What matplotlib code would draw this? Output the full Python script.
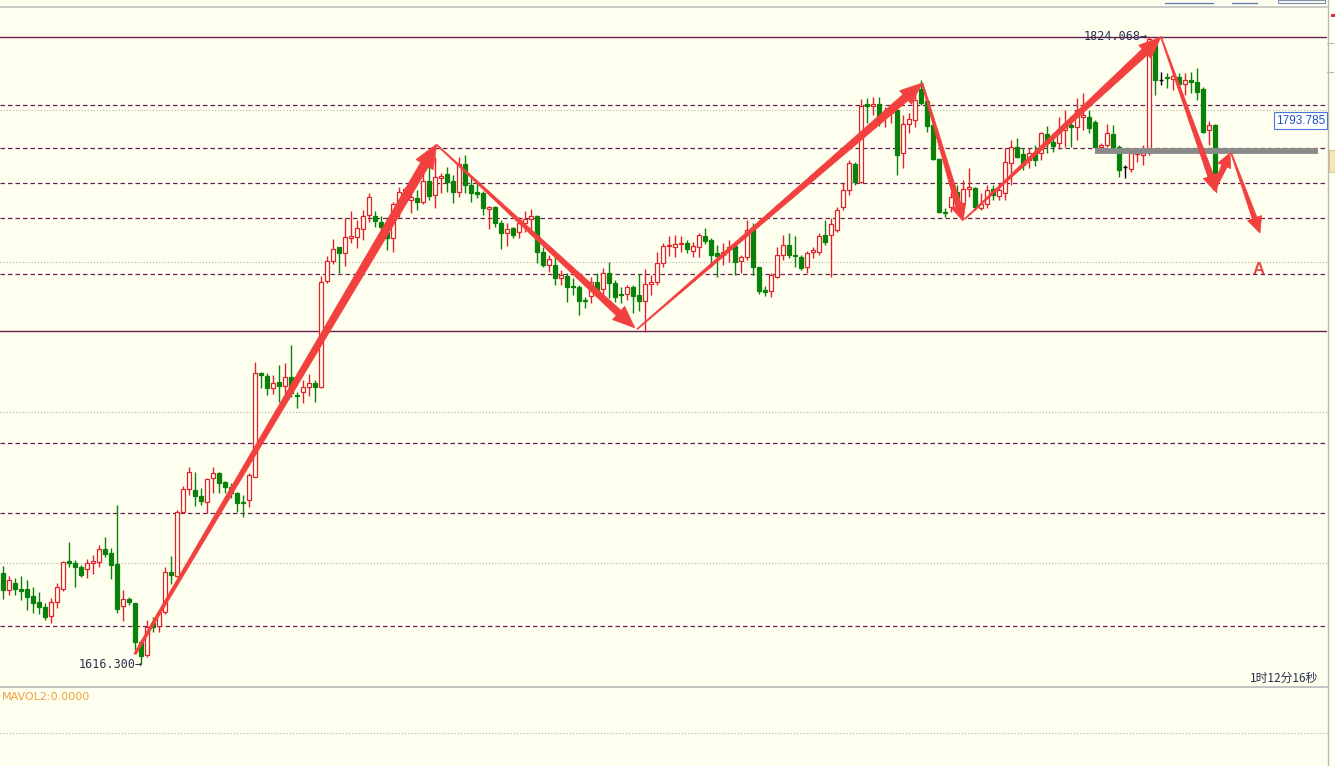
import numpy as np
import matplotlib
matplotlib.use("Agg")
import matplotlib.pyplot as plt
from matplotlib.patches import Polygon, Rectangle
from matplotlib.lines import Line2D

# candle data, one bar per period
opens = [
    1645.4, 1639.7, 1642.1, 1640.1, 1640.1, 1637.7, 1635.7, 1634.1, 1631.1, 1635.7,
    1640.1, 1649.4, 1648.7, 1647.4, 1646.7, 1648.7, 1649.1, 1653.4, 1652.1, 1648.4,
    1634.4, 1636.7, 1635.4, 1622.4, 1618.1, 1628.7, 1627.7, 1632.4, 1645.7, 1644.4,
    1665.7, 1673.4, 1673.1, 1671.1, 1669.1, 1677.1, 1678.7, 1675.7, 1674.1, 1672.1,
    1669.1, 1669.7, 1677.4, 1712.1, 1711.1, 1707.1, 1709.1, 1707.7, 1710.7, 1704.7,
    1705.7, 1707.4, 1708.7, 1707.4, 1742.7, 1749.4, 1754.1, 1752.1, 1757.1, 1757.4,
    1760.1, 1764.7, 1764.4, 1762.4, 1759.1, 1757.1, 1768.1, 1772.7, 1769.7, 1770.4,
    1769.1, 1776.1, 1771.4, 1777.1, 1778.4, 1776.1, 1772.4, 1781.7, 1774.7, 1772.4,
    1772.1, 1766.7, 1767.4, 1762.1, 1758.7, 1760.4, 1759.1, 1762.1, 1763.4, 1764.4,
    1752.4, 1748.1, 1748.1, 1743.7, 1744.4, 1741.1, 1740.7, 1736.4, 1737.7, 1742.4,
    1740.1, 1745.4, 1742.1, 1738.4, 1738.4, 1740.7, 1738.1, 1736.1, 1741.7, 1742.4,
    1748.7, 1754.4, 1754.1, 1755.1, 1755.4, 1752.7, 1754.1, 1757.7, 1756.4, 1752.1,
    1751.4, 1753.4, 1754.4, 1749.4, 1750.7, 1760.4, 1747.4, 1739.7, 1739.4, 1744.1,
    1751.4, 1754.7, 1751.4, 1750.7, 1747.4, 1752.4, 1752.4, 1758.1, 1758.1, 1759.7,
    1767.4, 1773.1, 1781.7, 1775.7, 1801.7, 1801.1, 1801.7, 1797.4, 1798.7, 1799.7,
    1785.4, 1795.1, 1796.4, 1806.7, 1802.7, 1794.7, 1783.4, 1765.7, 1767.4, 1772.4,
    1768.7, 1773.4, 1773.7, 1767.1, 1768.4, 1773.4, 1771.1, 1772.1, 1782.1, 1787.4,
    1785.1, 1783.1, 1785.4, 1785.4, 1791.7, 1789.1, 1788.7, 1793.1, 1794.7, 1794.1,
    1797.4, 1797.4, 1795.7, 1787.4, 1788.1, 1791.7, 1787.4, 1780.7, 1780.1, 1785.1,
    1784.7, 1787.1, 1821.4, 1809.7, 1810.7, 1810.1, 1810.7, 1808.4, 1809.7, 1809.1,
    1806.7, 1793.1, 1794.7]
closes = [
    1639.7, 1643.1, 1640.1, 1639.4, 1637.4, 1635.4, 1634.1, 1630.7, 1635.7, 1640.7,
    1649.1, 1648.7, 1647.4, 1644.7, 1648.7, 1649.4, 1653.4, 1651.7, 1648.1, 1633.4,
    1636.7, 1635.7, 1622.4, 1617.7, 1627.4, 1627.4, 1632.1, 1645.7, 1644.7, 1665.7,
    1673.4, 1679.1, 1671.1, 1669.4, 1676.7, 1678.7, 1675.4, 1674.1, 1672.1, 1668.7,
    1668.7, 1678.1, 1712.1, 1711.4, 1707.1, 1708.7, 1707.7, 1710.7, 1705.4, 1704.4,
    1707.4, 1708.7, 1707.4, 1742.4, 1749.4, 1753.4, 1752.1, 1757.4, 1757.7, 1760.4,
    1764.4, 1770.7, 1762.7, 1760.7, 1757.1, 1768.4, 1772.4, 1773.4, 1770.7, 1769.1,
    1776.1, 1771.1, 1777.4, 1777.7, 1775.7, 1772.4, 1781.7, 1774.7, 1772.1, 1771.7,
    1767.1, 1767.4, 1762.1, 1758.7, 1760.1, 1758.1, 1762.1, 1763.4, 1764.4, 1752.4,
    1748.1, 1750.1, 1743.7, 1744.7, 1740.7, 1740.7, 1736.1, 1736.1, 1742.4, 1739.7,
    1745.4, 1742.1, 1737.4, 1738.1, 1740.7, 1737.7, 1736.1, 1741.7, 1742.4, 1748.7,
    1754.4, 1754.7, 1755.1, 1755.4, 1753.4, 1754.4, 1758.1, 1756.1, 1751.4, 1751.1,
    1752.4, 1754.1, 1749.1, 1750.7, 1759.7, 1747.4, 1739.4, 1739.1, 1744.7, 1751.4,
    1754.7, 1751.4, 1751.1, 1747.1, 1752.1, 1753.1, 1757.7, 1755.7, 1761.7, 1766.4,
    1773.1, 1782.1, 1775.7, 1801.1, 1801.1, 1801.7, 1797.4, 1798.7, 1799.4, 1784.7,
    1795.1, 1796.7, 1803.1, 1802.1, 1794.4, 1783.4, 1765.7, 1765.4, 1770.7, 1769.7,
    1773.4, 1774.1, 1767.4, 1768.4, 1773.1, 1771.4, 1773.1, 1782.4, 1787.4, 1784.1,
    1781.4, 1785.4, 1783.1, 1792.1, 1788.7, 1787.7, 1793.1, 1795.1, 1794.1, 1799.7,
    1798.1, 1793.7, 1787.4, 1788.1, 1792.1, 1787.4, 1779.7, 1780.7, 1785.4, 1785.7,
    1785.4, 1823.5, 1809.7, 1809.7, 1810.4, 1811.1, 1808.4, 1809.7, 1809.1, 1805.7,
    1792.4, 1794.7, 1778.7]
highs = [
    1647.7, 1644.4, 1643.7, 1644.4, 1643.1, 1640.7, 1639.1, 1635.4, 1637.1, 1642.1,
    1649.4, 1655.7, 1649.7, 1648.1, 1650.1, 1651.4, 1654.7, 1657.4, 1653.7, 1668.1,
    1639.7, 1637.4, 1635.4, 1623.1, 1629.7, 1630.7, 1633.1, 1647.4, 1651.1, 1666.4,
    1674.4, 1680.7, 1679.1, 1673.7, 1677.1, 1680.7, 1679.1, 1676.1, 1675.4, 1672.4,
    1671.4, 1678.7, 1715.7, 1712.4, 1712.1, 1711.4, 1714.7, 1715.4, 1721.4, 1705.7,
    1709.7, 1711.7, 1709.7, 1744.4, 1751.1, 1756.7, 1754.1, 1763.7, 1766.1, 1763.1,
    1766.4, 1772.1, 1766.1, 1764.4, 1764.1, 1769.1, 1774.1, 1774.1, 1772.4, 1773.1,
    1778.7, 1781.4, 1784.1, 1778.7, 1780.7, 1778.1, 1784.1, 1784.7, 1777.7, 1775.4,
    1772.7, 1767.7, 1767.7, 1763.1, 1762.1, 1760.7, 1764.1, 1766.1, 1766.7, 1764.7,
    1754.1, 1751.4, 1750.7, 1746.4, 1745.4, 1743.7, 1741.4, 1737.4, 1744.1, 1745.4,
    1747.1, 1749.1, 1743.1, 1740.7, 1741.4, 1741.4, 1745.1, 1746.7, 1744.7, 1752.4,
    1755.4, 1757.7, 1758.1, 1757.7, 1756.4, 1755.7, 1758.7, 1760.4, 1757.1, 1754.7,
    1755.4, 1756.4, 1755.4, 1751.4, 1763.1, 1762.1, 1747.4, 1741.1, 1745.4, 1754.1,
    1758.1, 1758.7, 1757.7, 1751.4, 1752.7, 1754.1, 1758.7, 1763.1, 1763.7, 1767.4,
    1775.4, 1783.1, 1782.4, 1803.4, 1803.7, 1804.1, 1804.1, 1800.7, 1801.7, 1800.1,
    1798.1, 1798.7, 1805.1, 1809.7, 1803.7, 1795.7, 1783.7, 1767.1, 1772.4, 1774.7,
    1776.4, 1780.4, 1774.1, 1772.1, 1774.7, 1774.7, 1775.4, 1787.1, 1789.7, 1790.4,
    1787.1, 1787.1, 1788.1, 1792.4, 1794.4, 1792.1, 1797.4, 1799.7, 1797.7, 1803.7,
    1805.4, 1799.7, 1796.4, 1788.7, 1795.1, 1794.7, 1788.1, 1781.4, 1787.1, 1787.1,
    1788.1, 1824.07, 1822.1, 1812.4, 1812.1, 1812.4, 1812.1, 1812.1, 1812.4, 1813.7,
    1807.4, 1796.1, 1795.1]
lows = [
    1636.7, 1638.1, 1638.1, 1636.4, 1633.1, 1632.1, 1631.7, 1629.7, 1628.7, 1633.7,
    1639.4, 1647.4, 1640.7, 1644.1, 1643.7, 1645.1, 1647.4, 1650.7, 1643.4, 1632.1,
    1629.4, 1634.7, 1619.7, 1615.0, 1617.4, 1625.7, 1625.7, 1631.7, 1641.7, 1644.1,
    1665.4, 1671.4, 1667.7, 1668.1, 1665.4, 1672.1, 1672.1, 1672.1, 1670.4, 1665.7,
    1664.1, 1667.4, 1677.4, 1707.1, 1704.7, 1705.1, 1702.4, 1704.1, 1704.1, 1700.4,
    1702.1, 1704.4, 1702.4, 1707.1, 1742.1, 1748.4, 1745.4, 1747.7, 1755.4, 1753.7,
    1756.4, 1762.4, 1760.7, 1759.7, 1753.1, 1752.4, 1764.1, 1769.1, 1765.4, 1766.4,
    1768.4, 1769.7, 1767.1, 1772.1, 1772.4, 1768.7, 1770.7, 1772.1, 1769.1, 1770.4,
    1764.7, 1760.1, 1760.7, 1753.4, 1754.4, 1757.1, 1757.1, 1759.1, 1759.4, 1748.7,
    1747.4, 1745.7, 1741.4, 1741.4, 1735.7, 1738.1, 1731.4, 1733.7, 1735.4, 1738.4,
    1736.4, 1737.1, 1735.7, 1735.4, 1736.4, 1732.1, 1732.7, 1725.7, 1738.1, 1741.4,
    1747.4, 1751.1, 1750.7, 1752.4, 1752.1, 1750.7, 1750.7, 1755.1, 1747.4, 1744.1,
    1748.1, 1749.1, 1744.7, 1745.4, 1749.7, 1744.7, 1738.4, 1737.7, 1737.4, 1743.7,
    1749.7, 1750.4, 1747.4, 1746.4, 1745.4, 1750.4, 1751.4, 1754.7, 1744.1, 1759.1,
    1766.4, 1771.4, 1774.7, 1775.4, 1795.4, 1798.1, 1794.4, 1794.1, 1795.4, 1778.1,
    1780.4, 1792.1, 1794.1, 1801.4, 1792.4, 1783.1, 1765.4, 1764.1, 1765.7, 1767.7,
    1767.4, 1770.7, 1766.4, 1766.4, 1767.1, 1769.7, 1769.7, 1769.7, 1774.7, 1783.7,
    1779.7, 1780.4, 1781.1, 1783.1, 1785.4, 1785.7, 1786.7, 1787.4, 1787.4, 1789.7,
    1793.1, 1792.1, 1787.1, 1786.4, 1787.4, 1786.4, 1777.4, 1777.1, 1779.1, 1782.4,
    1781.4, 1784.7, 1804.7, 1808.1, 1807.1, 1806.4, 1806.4, 1804.7, 1805.4, 1803.1,
    1792.1, 1788.1, 1777.7]

# horizontal levels drawn on the chart
solid_levels = [1824.07, 1726.1]
dashed_levels = [1801.4, 1787.1, 1775.4, 1763.7, 1745.1, 1688.7, 1665.4, 1627.7]
grid_levels = [1799.7, 1749.1, 1699.1, 1648.7]
support_bar = (182.0, 219.2, 1786.1)   # grey bar: from bar, to bar, price

# hand-drawn arrows: tail (bar, price) -> head (bar, price)
arrow_tails = [(22.0, 1618.4), (72.3, 1788.1), (105.7, 1726.7), (153.2, 1808.7),
               (160.3, 1763.4), (193.0, 1824.1), (201.8, 1773.1), (204.7, 1785.4)]
arrow_heads = [(72.3, 1788.4), (105.3, 1727.1), (153.2, 1808.7), (160.0, 1762.7),
               (193.0, 1824.1), (202.3, 1772.1), (204.5, 1785.4), (209.5, 1758.7)]
arrow_sizes = [(2.5, 9, 24, 20), (1, 7, 22, 18), (1, 8, 22, 18), (1.5, 6, 16, 15),
               (1, 8, 22, 18), (1, 6, 18, 16), (3, 6, 14, 14), (1, 5, 16, 15)]

low_label = "1616.300"
high_label = "1824.068"
price_tag = "1793.785"
timer_text = "1时12分16秒"
vol_text = "MAVOL2:0.0000"

BG = "#fffff0"
RED = "#e2222a"
GREEN = "#0a820a"
ARROW = "#f2403f"
LEVEL = "#65204f"
W, H = 1335, 766


def fx(px):
    return px / W


def fy(py):
    return 1 - py / H


def draw_arrow(ax, tail, head, w0, w1, hl, hw):
    """tapered arrow, widths in pixels"""
    tr = ax.transData
    a = np.array(tr.transform(tail))
    b = np.array(tr.transform(head))
    d = b - a
    u = d / np.hypot(*d)
    n = np.array([-u[1], u[0]])
    base = b - u * hl
    pts = [a + n * w0 / 2, base + n * w1 / 2, base + n * hw / 2, b,
           base - n * hw / 2, base - n * w1 / 2, a - n * w0 / 2]
    pts = tr.inverted().transform(np.array(pts))
    ax.add_patch(Polygon(pts, closed=True, fc=ARROW, ec=ARROW, lw=0.5, zorder=6))


fig = plt.figure(figsize=(W / 100, H / 100), dpi=100, facecolor=BG)
ax = fig.add_axes([0, 79 / H, 1327 / W, 681 / H])
ax.set_xlim(-0.5, 220.67)
ax.set_ylim(1607.4, 1834.4)
ax.set_axis_off()

for lv in solid_levels:
    ax.axhline(lv, color=LEVEL, lw=1.0, zorder=1)
for lv in dashed_levels:
    ax.axhline(lv, color=LEVEL, lw=0.9, ls=(0, (3.6, 2.4)), zorder=1)
for lv in grid_levels:
    ax.axhline(lv, color="#b4b4a4", lw=0.8, ls=(0, (1, 1.8)), zorder=1)

o = np.array(opens)
c = np.array(closes)
h = np.array(highs)
l = np.array(lows)
idx = np.arange(len(o))
up = c > o
dn = c < o
flat = c == o
body_lo = np.minimum(o, c)
body_h = np.maximum(np.abs(c - o), 0.3)

ax.vlines(idx[up], l[up], h[up], color=RED, lw=1.0, zorder=3)
ax.bar(idx[up], body_h[up], bottom=body_lo[up], width=0.68,
       facecolor=BG, edgecolor=RED, lw=0.9, zorder=4)
ax.vlines(idx[dn], l[dn], h[dn], color=GREEN, lw=1.0, zorder=3)
ax.bar(idx[dn], body_h[dn], bottom=body_lo[dn], width=0.68,
       facecolor=GREEN, edgecolor=GREEN, lw=0.9, zorder=4)
ax.vlines(idx[flat], l[flat], h[flat], color="black", lw=1.0, zorder=3)
ax.hlines(o[flat], idx[flat] - 0.4, idx[flat] + 0.4, color="black", lw=1.0, zorder=4)

# grey support bar
ax.hlines(support_bar[2], support_bar[0], support_bar[1], color="#8a8a8a", lw=4.2, zorder=5)

for t, hd, s in zip(arrow_tails, arrow_heads, arrow_sizes):
    draw_arrow(ax, t, hd, *s)

ax.text(209.3, 1746.4, "A", color="#e84848", fontsize=12, fontweight="bold",
        family="Liberation Sans", ha="center", va="center", zorder=7)

# extreme labels
ilo = int(np.argmin(l))
ihi = int(np.argmax(h))
ax.text(ilo + 0.3, l[ilo] - 0.1, low_label + "→", ha="right", va="center",
        family="DejaVu Sans Mono", fontsize=8.5, color="#283050", zorder=7)
ax.text(ihi - 0.2, h[ihi], high_label + "→", ha="right", va="center",
        family="DejaVu Sans Mono", fontsize=8.5, color="#283050", zorder=7)

# volume panel (empty)
vax = fig.add_axes([0, 0, 1327 / W, 79 / H])
vax.set_axis_off()
fig.add_artist(Line2D([0, fx(1327)], [fy(733)] * 2, color="#b4b4a4", lw=0.8, ls=(0, (1, 1.8))))
fig.text(fx(2), fy(697), vol_text, color="#f0a040", fontsize=8, ha="left", va="center")

# frame lines
fig.add_artist(Line2D([0, fx(1327)], [fy(6.5)] * 2, color="#c0c0c0", lw=1.2))
fig.add_artist(Line2D([0, fx(1327)], [fy(687)] * 2, color="#b8b8b8", lw=1.2))
fig.add_artist(Line2D([fx(1327.5)] * 2, [0, 1], color="#b8b8b8", lw=1.0))

fig.text(fx(1318), fy(678), timer_text, color="#283050", fontsize=8.5, ha="right", va="center",
         family=["Noto Sans CJK SC", "DejaVu Sans"])
fig.text(fx(1300.5), fy(120.5), price_tag, color="#2050c0", fontsize=8.5, ha="center", va="center",
         family="Liberation Sans",
         bbox=dict(boxstyle="square,pad=0.18", fc="white", ec="#4a78d8", lw=0.8))

# bits of the toolbar and right scale
fig.add_artist(Rectangle((fx(1329), fy(172)), fx(6), 22 / H, fc="#f6e6b0", ec="#d8c890", lw=0.8))
fig.add_artist(Rectangle((fx(1331), fy(17)), fx(4), 3 / H, fc="#e03030", ec="none"))
for ty in [43, 72]:
    fig.add_artist(Line2D([fx(1327), fx(1333)], [fy(ty)] * 2, color="#b8b8b8", lw=0.8))
fig.add_artist(Line2D([fx(1165), fx(1213)], [fy(2.5)] * 2, color="#5a78a8", lw=0.9))
fig.add_artist(Line2D([fx(1232), fx(1257)], [fy(2.5)] * 2, color="#5a78a8", lw=0.9))
fig.add_artist(Rectangle((fx(1278), fy(2.5)), fx(47), 3 / H, fc="none", ec="#7a90b0", lw=0.8))

fig.savefig("out.png", dpi=100, facecolor=BG)
